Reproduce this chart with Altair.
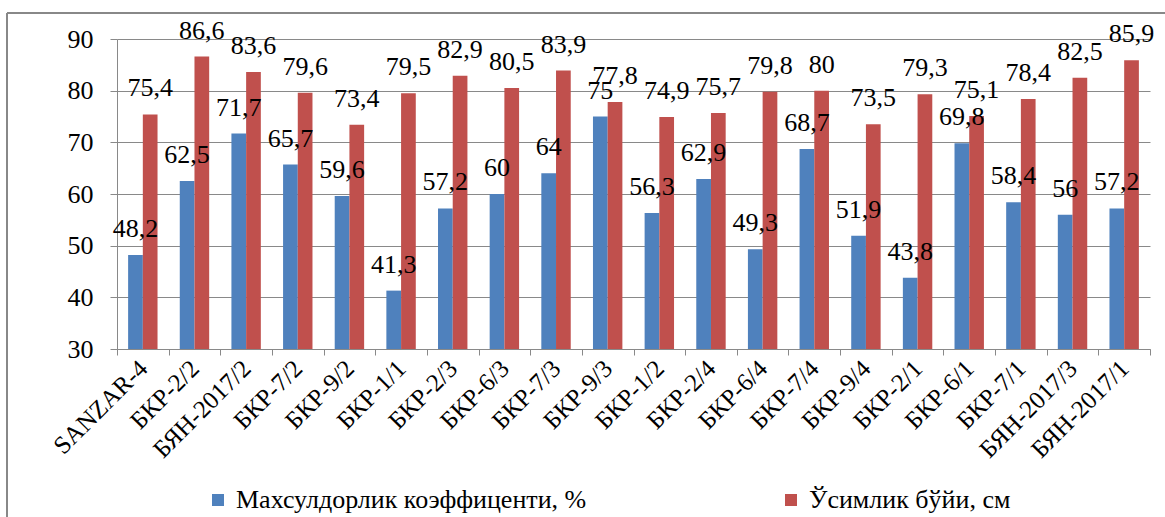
import altair as alt
import pandas as pd

categories = ["SANZAR-4", "БКР-2/2", "БЯН-2017/2", "БКР-7/2", "БКР-9/2", "БКР-1/1",
              "БКР-2/3", "БКР-6/3", "БКР-7/3", "БКР-9/3", "БКР-1/2", "БКР-2/4",
              "БКР-6/4", "БКР-7/4", "БКР-9/4", "БКР-2/1", "БКР-6/1", "БКР-7/1",
              "БЯН-2017/3", "БЯН-2017/1"]
productivity = [48.2, 62.5, 71.7, 65.7, 59.6, 41.3, 57.2, 60, 64, 75, 56.3, 62.9,
                49.3, 68.7, 51.9, 43.8, 69.8, 58.4, 56, 57.2]
height_cm = [75.4, 86.6, 83.6, 79.6, 73.4, 79.5, 82.9, 80.5, 83.9, 77.8, 74.9, 75.7,
             79.8, 80, 73.5, 79.3, 75.1, 78.4, 82.5, 85.9]
series_names = ["Махсулдорлик коэффиценти, %", "Ўсимлик бўйи, см"]
series_colors = ["#4F81BD", "#C0504D"]
y_ticks = [30, 40, 50, 60, 70, 80, 90]


def fmt(v):
    s = f"{v:g}"
    return s.replace(".", ",")


rows = []
for i, c in enumerate(categories):
    for name, vals in zip(series_names, [productivity, height_cm]):
        rows.append({"category": c, "series": name, "value": vals[i], "label": fmt(vals[i])})
df = pd.DataFrame(rows)

W, H = 1033, 310
PL, PT = 117, 39
FONT = "Liberation Serif"
GRAY = "#898989"

x_enc = alt.X("category:N", sort=categories,
              scale=alt.Scale(paddingInner=0, paddingOuter=0),
              axis=alt.Axis(title=None, labelAngle=-45, labelAlign="right", labelBaseline="middle",
                            labelFont=FONT, labelFontSize=25, labelColor="black",
                            labelPadding=9, tickBand="extent", tickSize=6, tickColor=GRAY,
                            domainColor=GRAY, labelLimit=300))
xoff = alt.XOffset("series:N", sort=series_names,
                   scale=alt.Scale(paddingOuter=0.756, paddingInner=0))
y_enc = alt.Y("value:Q", scale=alt.Scale(domain=[30, 90], nice=False, zero=False),
              axis=alt.Axis(title=None, values=y_ticks, labelFont=FONT, labelFontSize=26,
                            labelColor="black", tickSize=7, tickColor=GRAY, labelPadding=17,
                            domainColor=GRAY, gridColor=GRAY, gridOpacity=1))

bars = alt.Chart(df).mark_bar().encode(
    x=x_enc, xOffset=xoff, y=y_enc, y2=alt.datum(30),
    color=alt.Color("series:N", sort=series_names,
                    scale=alt.Scale(domain=series_names, range=series_colors),
                    legend=alt.Legend(title=None, orient="none", legendX=88, legendY=448,
                                      direction="horizontal", columns=2, columnPadding=191,
                                      symbolType="square", symbolSize=144, symbolStrokeWidth=0,
                                      labelFont=FONT, labelFontSize=26, labelColor="black",
                                      labelLimit=500, labelOffset=5))
)

labels = alt.Chart(df).mark_text(font=FONT, fontSize=26, color="black", baseline="alphabetic",
                                 dy=-18).encode(
    x=alt.X("category:N", sort=categories), xOffset=alt.XOffset("series:N", sort=series_names),
    y="value:Q", text="label:N")

frame_left = alt.Chart(df).mark_rule(color=GRAY, strokeWidth=1.5).encode(
    x=alt.value(-110), y=alt.value(-26), y2=alt.value(520))
frame_top = alt.Chart(df).mark_rule(color=GRAY, strokeWidth=1.5).encode(
    x=alt.value(-110), x2=alt.value(1060), y=alt.value(-26))

chart = alt.layer(bars, labels, frame_left, frame_top).properties(
    width=W, height=H,
    autosize=alt.AutoSizeParams(type="none"),
    padding={"left": PL, "top": PT, "right": 15, "bottom": 168},
).configure_view(stroke=None).configure_axis(grid=False).configure_axisY(grid=True)

chart.save("out.html", embed_options={"renderer": "svg", "actions": False})
